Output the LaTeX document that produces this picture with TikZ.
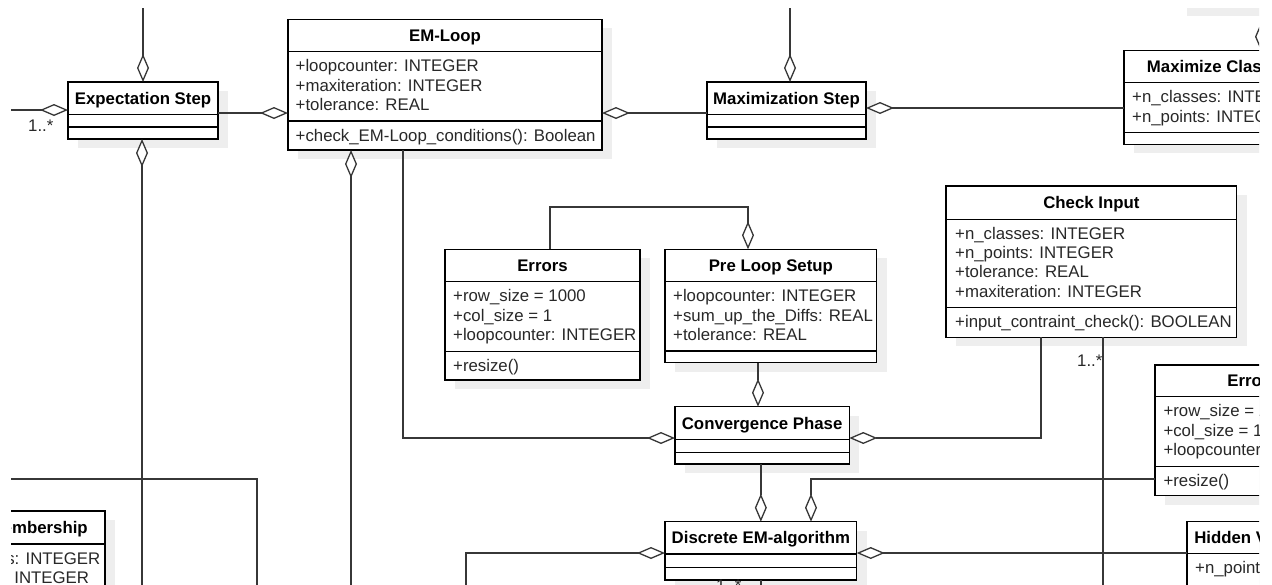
\documentclass[tikz,border=0pt]{standalone}
\usepackage{fontspec}
\setmainfont{Liberation Sans}
\usetikzlibrary{arrows.meta}

\definecolor{shadowgray}{RGB}{238,238,238}
\definecolor{linegray}{RGB}{55,55,55}
\definecolor{textgray}{RGB}{40,40,40}

\tikzset{
  classbox/.style={rectangle, draw=black, fill=white, line width=1.3pt, inner sep=0pt, outer sep=0pt},
  sepline/.style={draw=black, line width=1.3pt},
  classname/.style={anchor=base, inner sep=0pt, font=\fontsize{16.8}{19.3}\selectfont\bfseries, text=black},
  member/.style={anchor=base west, inner sep=0pt, font=\fontsize{16.8}{19.3}\selectfont, text=textgray},
  mult/.style={anchor=base west, inner sep=0pt, font=\fontsize{16.8}{19.3}\selectfont, text=textgray},
  conn/.style={draw=linegray, line width=1.3pt},
  agg/.style={conn, -{Diamond[fill=white, length=28pt, width=12pt]}},
}

% class box: name, x1, y1, x2, y2, first separator, second separator, class name
\newcommand{\classbox}[8]{%
  \fill[shadowgray] ({#2+10},{#3+9}) rectangle ({#4+10},{#5+9});
  \node[classbox, minimum width={#4-#2}, minimum height={#5-#3}] (#1) at ({(#2+#4)/2},{(#3+#5)/2}) {};
  \draw[sepline] (#1.west |- 0,#6) -- (#1.east |- 0,#6);
  \draw[sepline] (#1.west |- 0,#7) -- (#1.east |- 0,#7);
  \node[classname] (#1-name) at ({(#2+#4)/2},{(#3+#6)/2+6}) {#8};
}

% compartment lines: node prefix, left x, separator y, list of entries
\newcommand{\members}[4]{%
  \foreach \t [count=\i] in {#4}{%
    \node[member] (#1-\i) at ({#2},{#3+20+(\i-1)*19.3}) {\t};
  }%
}

\begin{document}
\begin{tikzpicture}[x=1pt, y=-1pt]
\useasboundingbox (0,0) rectangle (1272,584);
\fill[white] (0,0) rectangle (1272,584);
\clip (11,8) rectangle (1259,586);

% ---------- classes ----------
\classbox{topbox}{1177}{-60}{1380}{7}{-40}{-20}{}

\classbox{expect}{68}{82}{218}{139}{114.3}{127}{Expectation Step}

\classbox{emloop}{288}{19.3}{602}{150}{51.7}{121}{EM-Loop}
\members{emloop-a}{295.5}{51.7}{+loopcounter: INTEGER, +maxiteration: INTEGER, +tolerance: REAL}
\members{emloop-m}{295.5}{121}{+check\_EM-Loop\_conditions(): Boolean}

\classbox{maxstep}{707}{82}{866}{139}{114.3}{127}{Maximization Step}

\classbox{maxclass}{1124}{50.7}{1294}{144.3}{82.7}{132.7}{Maximize Class}
\members{maxclass-a}{1132}{82.7}{+n\_classes: INTEGER, +n\_points: INTEGER}

\classbox{errors}{445}{249.3}{640}{380}{281.7}{351.7}{Errors}
\members{errors-a}{453}{281.7}{+row\_size = 1000, +col\_size = 1, +loopcounter: INTEGER}
\members{errors-m}{453}{351.7}{+resize()}

\classbox{preloop}{665}{249.3}{876.7}{362.7}{281.7}{351}{Pre Loop Setup}
\members{preloop-a}{673}{281.7}{+loopcounter: INTEGER, +sum\_up\_the\_Diffs: REAL, +tolerance: REAL}

\classbox{check}{946}{186}{1236.7}{337.3}{219.3}{307.7}{Check Input}
\members{check-a}{955}{219.3}{+n\_classes: INTEGER, +n\_points: INTEGER, +tolerance: REAL, +maxiteration: INTEGER}
\members{check-m}{955}{307.7}{+input\_contraint\_check(): BOOLEAN}

\classbox{errors2}{1155}{365}{1350}{495.7}{396.7}{466.7}{Errors}
\members{errors2-a}{1163.3}{396.7}{+row\_size = 1000, +col\_size = 1, +loopcounter: INTEGER}
\members{errors2-m}{1163.3}{466.7}{+resize()}

\classbox{conv}{675}{406.7}{849.3}{464}{439.3}{452.3}{Convergence Phase}

\classbox{disc}{665}{521.7}{856.7}{580}{554}{567.7}{Discrete EM-algorithm}

\classbox{hidden}{1187}{521.7}{1337}{640}{553.3}{620}{Hidden Variables}
\members{hidden-a}{1195}{553.3}{+n\_points: INTEGER}

\classbox{member}{-78}{511}{105}{650}{544}{630}{Class Membership}
\members{member-a}{-70}{544}{+n\_classes: INTEGER, +n\_points: INTEGER}

% ---------- free ends and bends ----------
\coordinate (fe1) at (143,-20);
\coordinate (fe2) at (-30,110);
\coordinate (fe3) at (142,620);
\coordinate (fe4) at (351,620);
\coordinate (fe5) at (790,-20);
\coordinate (fe7) at (1103,620);
\coordinate (fe8) at (466,620);
\coordinate (fe9) at (761,620);
\coordinate (fe10) at (-30,479);
\coordinate (fe11) at (257,620);
\coordinate (bend1) at (650,207);

% ---------- aggregations ----------
\draw[agg] (fe1) -- (expect.north);
\draw[agg] (fe2) -- (expect.west |- fe2);
\draw[agg] (expect.east |- 0,113) -- (emloop.west |- 0,113);
\draw[agg] (fe3) -- (expect.south -| fe3);
\draw[agg] (fe4) -- (emloop.south -| fe4);
\draw[agg] (emloop.south -| 403,0) |- (conv.west |- 0,438);
\draw[agg] (maxstep.west |- 0,113) -- (emloop.east |- 0,113);
\draw[agg] (fe5) -- (maxstep.north -| fe5);
\draw[agg] (maxclass.west |- 0,108) -- (maxstep.east |- 0,108);
\draw[agg] (topbox.south -| 1261,0) -- (maxclass.north -| 1261,0);
\draw[agg] (errors.north -| 550,0) |- (bend1) -| (preloop.north -| 748,0);
\draw[agg] (preloop.south -| 758,0) -- (conv.north -| 758,0);
\draw[agg] (conv.south -| disc.north) -- (disc.north);
\draw[agg] (errors2.west |- 0,479) -| (disc.north -| 811,0);
\draw[agg] (check.south -| 1041,0) |- (conv.east |- 0,438);
\draw[agg] (fe8) |- (disc.west |- 0,553);
\draw[agg] (hidden.west |- 0,553) -- (disc.east |- 0,553);

% ---------- plain associations ----------
\draw[conn] (check.south -| 1103,0) -- (fe7);
\draw[conn] (disc.south -| fe9) -- (fe9);
\draw[conn] (fe10) -| (fe11);

% ---------- multiplicities ----------
\node[mult] (m1) at (28,131.7) {1..*};
\node[mult] (m2) at (1077,366) {1..*};
\node[mult] (m3) at (716,591.5) {1..*};
\end{tikzpicture}
\end{document}
